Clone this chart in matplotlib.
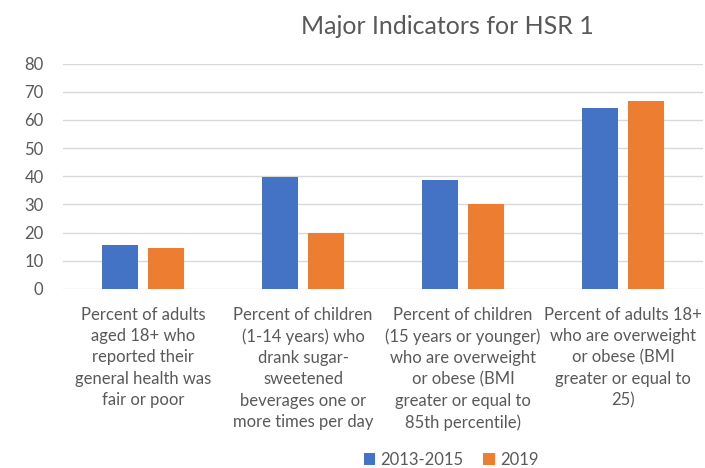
import numpy as np
import matplotlib.pyplot as plt

# ── Data ──────────────────────────────────────────────────
categories = [
    "Percent of adults\naged 18+ who\nreported their\ngeneral health was\nfair or poor",
    "Percent of children\n(1-14 years) who\ndrank sugar-\nsweetened\nbeverages one or\nmore times per day",
    "Percent of children\n(15 years or younger)\nwho are overweight\nor obese (BMI\ngreater or equal to\n85th percentile)",
    "Percent of adults 18+\nwho are overweight\nor obese (BMI\ngreater or equal to\n25)",
]
vals_2013_2015 = [15.5, 39.8, 38.8, 64.2]
vals_2019 = [14.5, 20.0, 30.1, 66.8]
series_names = ["2013-2015", "2019"]

BLUE = "#4472C4"
ORANGE = "#ED7D31"
GRAY = "#595959"

plt.rcParams['font.family'] = ['Lato', 'DejaVu Sans']

fig = plt.figure(figsize=(7.05, 4.68), dpi=100)
ax = fig.add_axes([0.0894, 0.3825, 0.908, 0.4815])

x = np.arange(len(categories))
w = 0.225
off = w / 2 + 0.031
ax.bar(x - off, vals_2013_2015, w, color=BLUE, label=series_names[0], zorder=3)
ax.bar(x + off, vals_2019, w, color=ORANGE, label=series_names[1], zorder=3)

ax.set_xlim(-0.5, len(categories) - 0.5)
ax.set_ylim(0, 80)
ax.set_yticks(range(0, 81, 10))
ax.grid(axis="y", color="#D9D9D9", linewidth=1, zorder=0)
for s in ax.spines.values():
    s.set_visible(False)
ax.tick_params(axis="both", length=0, colors=GRAY, labelsize=12)
ax.tick_params(axis="y", pad=14)
ax.tick_params(axis="x", pad=13)
ax.set_xticks(x)
ax.set_xticklabels(categories, linespacing=1.4, color=GRAY, fontsize=12)

fig.text(447 / 705, 1 - 26 / 468, "Major Indicators for HSR 1",
         ha="center", va="center", fontsize=18, color=GRAY)

fig.legend(loc="center", bbox_to_anchor=(451 / 705, 1 - 460 / 468), ncol=2,
           frameon=False, fontsize=12, labelcolor=GRAY, handlelength=0.7,
           handleheight=0.7, handletextpad=0.3, columnspacing=1.2)

plt.savefig("out.png", dpi=100)
